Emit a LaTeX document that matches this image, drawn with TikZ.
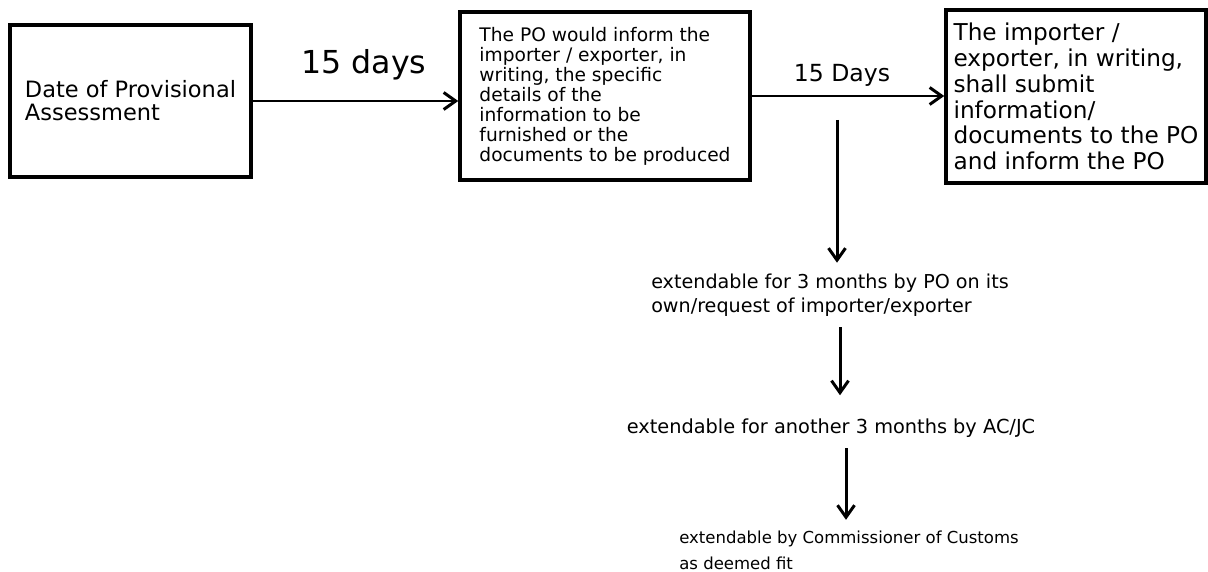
\documentclass[tikz,border=0pt]{standalone}
\usepackage{fontspec}
\setmainfont{DejaVu Sans}
\usetikzlibrary{positioning,arrows.meta}

\begin{document}
\begin{tikzpicture}[
        box/.style={rectangle, draw=black, line width=2pt, align=left, inner sep=0pt},
        note/.style={align=left, inner sep=6pt},
        flow/.style={-{Straight Barb[length=2.4mm, width=3.4mm]}, line width=1.7pt}
    ]
        \useasboundingbox (0,0) rectangle (24.16,-11.44);

        % Boxes
        \node[box, minimum width=4.82cm, minimum height=3.04cm, font=\fontsize{12.8}{13.2}\selectfont] (start) at (2.61,-2.02) {Date of Provisional\\Assessment};
        \node[box, minimum width=5.8cm, minimum height=3.36cm, font=\fontsize{10.6}{11.4}\selectfont] (notice) at (12.1,-1.92) {The PO would inform the\\importer / exporter, in\\writing, the specific\\details of the\\information to be\\furnished or the\\documents to be produced};
        \node[box, minimum width=5.2cm, minimum height=3.46cm, font=\fontsize{13.2}{14.7}\selectfont] (reply) at (21.52,-1.93) {The importer /\\exporter, in writing,\\shall submit\\information/\\documents to the PO\\and inform the PO};

        % Time limits
        \node[font=\fontsize{18}{20}\selectfont] (first) at (7.28,-1.3) {15 days};
        \node[font=\fontsize{13.4}{15}\selectfont] (second) at (16.84,-1.5) {15 Days};
        \draw[flow] (start.east) -- (start.east -| notice.west);
        \draw[flow] (notice.east) -- (notice.east -| reply.west);

        % Extensions
        \node[note, font=\fontsize{10.9}{13.8}\selectfont] (ext1) at (16.6,-5.9) {extendable for 3 months by PO on its\\own/request of importer/exporter};
        \node[note, font=\fontsize{11}{12}\selectfont] (ext2) at (16.62,-8.56) {extendable for another 3 months by AC/JC};
        \node[note, font=\fontsize{9.4}{14.7}\selectfont] (ext3) at (16.98,-11.0) {extendable by Commissioner of Customs\\as deemed fit};

        \coordinate (split) at (16.74,-2.4);
        \draw[flow] (split) -- (split |- ext1.north);
        \draw[flow, shorten >=2.5mm] ([xshift=2mm]ext1.south) -- ([xshift=2mm]ext1.south |- ext2.north);
        \draw[flow] ([xshift=3mm]ext2.south) -- ([xshift=3mm]ext2.south |- ext3.north);
    \end{tikzpicture}
\end{document}
